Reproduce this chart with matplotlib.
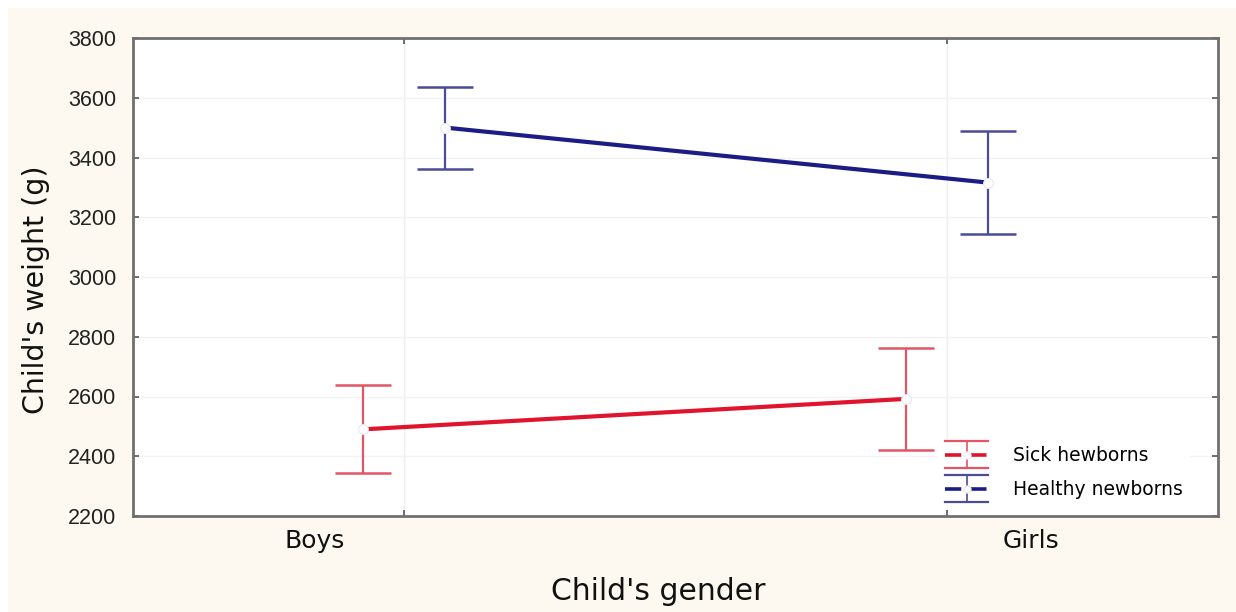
import matplotlib
matplotlib.use("Agg")
import matplotlib.pyplot as plt
from matplotlib.legend_handler import HandlerBase
from matplotlib.lines import Line2D
from matplotlib.patches import Rectangle

# ---- data ----
categories = ["Boys", "Girls"]
series_names = ["Sick hewborns", "Healthy newborns"]
sick_mean = [2490, 2592]
sick_err_low = [2344, 2422]
sick_err_high = [2637, 2762]
healthy_mean = [3500, 3316]
healthy_err_low = [3363, 3143]
healthy_err_high = [3637, 3490]
yticks = [2200, 2400, 2600, 2800, 3000, 3200, 3400, 3600, 3800]

line_colors = ["#e0142c", "#1c1c86"]
err_colors = ["#e35565", "#4b4b96"]

fig = plt.figure(figsize=(12.36, 6.12), dpi=100)
fig.patch.set_facecolor("white")
fig.add_artist(Rectangle((8 / 1236, 0), 1 - 8 / 1236, 1 - 8 / 612,
                         transform=fig.transFigure, facecolor="#fdf9f0",
                         edgecolor="none", zorder=-10))

ax = fig.add_axes([133 / 1236, 1 - 516 / 612, (1218 - 133) / 1236, (516 - 38) / 612])
ax.set_facecolor("white")
ax.set_xlim(-0.5, 1.5)
ax.set_ylim(2200, 3800)

x_idx = list(range(len(categories)))
offset = 0.076
groups = [
    (sick_mean, sick_err_low, sick_err_high, -offset),
    (healthy_mean, healthy_err_low, healthy_err_high, offset),
]
for i, (m, lo, hi, off) in enumerate(groups):
    xs = [x + off for x in x_idx]
    yerr = [[mm - l for mm, l in zip(m, lo)], [h - mm for mm, h in zip(m, hi)]]
    ax.errorbar(xs, m, yerr=yerr, fmt="none", ecolor=err_colors[i],
                elinewidth=1.6, capsize=20, capthick=1.8, zorder=3)
    ax.plot(xs, m, color=line_colors[i], lw=3, zorder=4)
    ax.plot(xs, m, ls="none", marker="o", ms=7, mfc="white",
            mec="#e8e8f0", mew=0.8, zorder=5)

# grid
for y in yticks:
    ax.axhline(y, color="#f3f3f3", lw=1, zorder=0)
for x in x_idx:
    ax.axvline(x, color="#efefef", lw=1, zorder=0)

ax.set_yticks(yticks)
ax.set_yticklabels([str(v) for v in yticks], fontsize=15.5,
                   family="Liberation Sans", color="#222222")
ax.set_xticks(x_idx)
ax.set_xticklabels([])
ax.tick_params(axis="both", direction="in", length=4, width=1.2, color="#555555",
               top=True, right=True, pad=12)
for s in ax.spines.values():
    s.set_color("#707070")
    s.set_linewidth(2)

label_pos = [-0.165, 1.156]
for lx, name in zip(label_pos, categories):
    ax.text(lx, -0.052, name, transform=ax.get_xaxis_transform(),
            ha="center", va="center", fontsize=18, family="DejaVu Sans",
            color="#111111")

fig.text(658 / 1236, 1 - 592 / 612, "Child's gender", ha="center", va="center",
         fontsize=21.5, family="DejaVu Sans", color="#111111")
fig.text(36 / 1236, 1 - 290 / 612, "Child's weight (g)", ha="center", va="center",
         rotation=90, fontsize=20.5, family="DejaVu Sans", color="#111111")


class ErrHandler(HandlerBase):
    def __init__(self, line_color, err_color):
        super().__init__()
        self.lc = line_color
        self.ec = err_color

    def create_artists(self, legend, orig_handle, xdescent, ydescent, width,
                       height, fontsize, trans):
        cy = height / 2 - ydescent
        h = height * 1.05
        arts = [
            Line2D([-xdescent, width - xdescent], [cy + h, cy + h], color=self.ec, lw=1.6),
            Line2D([-xdescent, width - xdescent], [cy - h, cy - h], color=self.ec, lw=1.6),
            Line2D([width / 2 - xdescent] * 2, [cy - h, cy + h], color=self.ec, lw=1.2),
            Line2D([-xdescent, width - xdescent], [cy, cy], color=self.lc, lw=2.6,
                   dashes=(4.5, 2.5)),
            Line2D([width / 2 - xdescent], [cy], marker="o", ms=5, mfc="white",
                   mec="#eeeeee", ls="none"),
        ]
        for a in arts:
            a.set_transform(trans)
        return arts


proxies = [Line2D([], [], color=c) for c in line_colors]
leg = ax.legend(proxies, series_names, loc="lower right",
                bbox_to_anchor=(0.983, 0.0), frameon=True,
                handlelength=2.3, handletextpad=1.3, labelspacing=0.8,
                prop={"family": "DejaVu Sans", "size": 13.5},
                handler_map={proxies[0]: ErrHandler(line_colors[0], err_colors[0]),
                             proxies[1]: ErrHandler(line_colors[1], err_colors[1])})
leg.get_frame().set_facecolor("white")
leg.get_frame().set_edgecolor("none")
leg.get_frame().set_alpha(1)

fig.savefig("out.png", dpi=100, facecolor=fig.get_facecolor())
